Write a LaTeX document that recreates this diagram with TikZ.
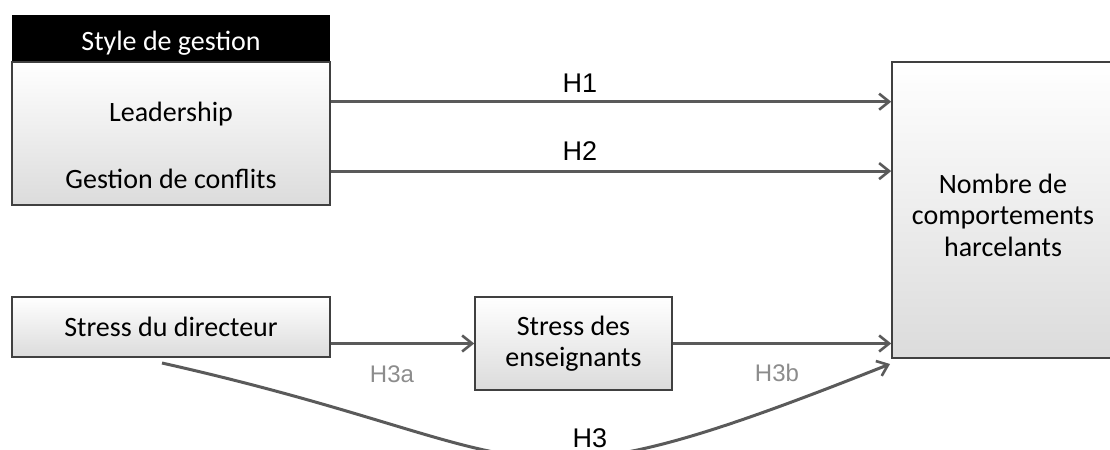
\documentclass[tikz,border=0pt]{standalone}
\usepackage{fontspec}
\setmainfont{Carlito}
\newfontfamily\labelfont{Liberation Sans}
\usetikzlibrary{arrows.meta,calc}
\definecolor{arrowgray}{HTML}{5A5A5A}
\definecolor{edgegray}{HTML}{404040}
\definecolor{labelgray}{HTML}{8C8C8C}

\begin{document}
\begin{tikzpicture}%
  [x=0.5pt,y=-0.5pt,
   hyp/.style={draw=arrowgray,line width=1.5pt,
     -{Straight Barb[length=5pt,width=8pt,line width=1.3pt]}}]
  \tikzstyle{box node}=[rectangle,draw=edgegray,line width=0.8pt,
    top color=white,bottom color=black!14,inner sep=0,align=center,
    font=\fontsize{14}{15.75}\selectfont]
  \tikzstyle{txt node}=[anchor=base,inner sep=0,font=\fontsize{14}{15.75}\selectfont]
  \tikzstyle{hyp label}=[anchor=base,inner sep=0,font=\labelfont\fontsize{13.5}{15}\selectfont]
  \tikzstyle{sub label}=[anchor=base,inner sep=0,text=labelgray,
    font=\labelfont\fontsize{12}{14}\selectfont]
  \path[use as bounding box,clip] (0,0) rectangle (1110,450);
  \node(head)[rectangle,fill=black,minimum width=159pt,minimum height=23.5pt,
    inner sep=0] at (171,38.5) {};
  \node(headtext)[txt node,text=white] at (171,50) {Style de gestion};
  \node(mgmt)[box node,minimum width=159pt,minimum height=71.5pt] at (171,133.5) {};
  \node(leader)[txt node] at (171,121) {Leadership};
  \node(conflict)[txt node] at (171,188) {Gestion de conflits};
  \node(dir)[box node,minimum width=159pt,minimum height=30pt] at (171,327)
    {Stress du directeur};
  \node(ens)[box node,minimum width=98.5pt,minimum height=46.5pt] at (573.5,343.5)
    {Stress des\\enseignants};
  \node(out)[box node,minimum width=111pt,minimum height=148pt] at (1003,210) {};
  \node(outtext)[txt node,anchor=center,align=center] at (1003,215)
    {Nombre de\\comportements\\harcelants};
  \coordinate(h1start) at ($(mgmt.north east)!0.28!(mgmt.south east)$);
  \coordinate(h2start) at ($(mgmt.north east)!0.76!(mgmt.south east)$);
  \coordinate(h3start) at (162,363);
  \coordinate(h3end) at (890,364);
  \draw[hyp] (h1start) -- (h1start -| out.west);
  \draw[hyp] (h2start) -- (h2start -| out.west);
  \draw[hyp] (ens.west -| dir.east) -- (ens.west);
  \draw[hyp] (ens.east) -- (ens.east -| out.west);
  \draw[hyp] (h3start) .. controls (562,453) and (490,523) .. (h3end);
  \node(h1)[hyp label] at (580,92) {H1};
  \node(h2)[hyp label] at (580,160) {H2};
  \node(h3)[hyp label] at (590,447) {H3};
  \node(h3a)[sub label] at (392,382) {H3a};
  \node(h3b)[sub label] at (777,381) {H3b};
\end{tikzpicture}
\end{document}
